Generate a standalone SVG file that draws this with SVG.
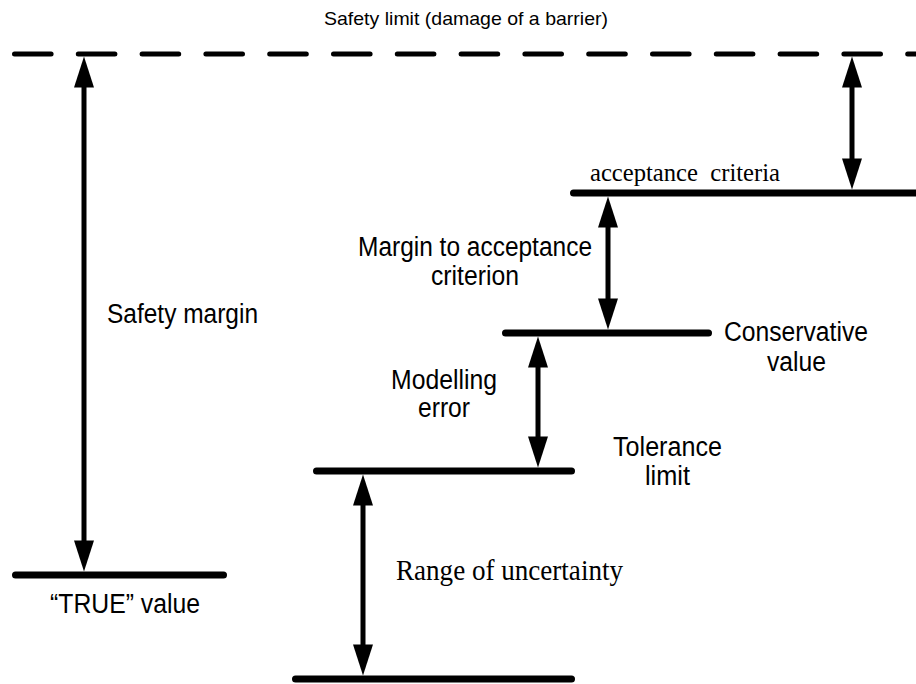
<svg xmlns="http://www.w3.org/2000/svg" width="916" height="684" viewBox="0 0 916 684">
<style>
.lvl{stroke:#000;stroke-width:7;stroke-linecap:round;fill:none}
.dash{stroke:#000;stroke-width:5;stroke-linecap:round;stroke-dasharray:36.6 27.2;fill:none}
.shaft{stroke:#000;stroke-width:5;fill:none}
.head{fill:#000;stroke:none}
.sans{font-family:"Liberation Sans",Arial,sans-serif;fill:#000}
.serif{font-family:"Liberation Serif","Times New Roman",serif;fill:#000}
</style>
<rect width="916" height="684" fill="#fff"/>
<g id="safety-limit">
<line class="dash" x1="14.5" y1="54" x2="916" y2="54"/>
<text class="sans" x="466" y="25" font-size="19" text-anchor="middle" textLength="284" lengthAdjust="spacingAndGlyphs">Safety limit (damage of a barrier)</text>
</g>
<g id="acceptance-criteria">
<line class="lvl" x1="573.5" y1="193" x2="920" y2="193"/>
<text class="serif" x="590" y="181" font-size="26" textLength="190" lengthAdjust="spacingAndGlyphs" xml:space="preserve">acceptance  criteria</text>
</g>
<g id="conservative-value">
<line class="lvl" x1="505.5" y1="333" x2="708.5" y2="333"/>
<text class="sans" x="724" y="341" font-size="27" textLength="144" lengthAdjust="spacingAndGlyphs">Conservative</text>
<text class="sans" x="767" y="371" font-size="27" textLength="59" lengthAdjust="spacingAndGlyphs">value</text>
</g>
<g id="tolerance-limit">
<line class="lvl" x1="316.5" y1="471" x2="571.5" y2="471"/>
<text class="sans" x="613" y="456" font-size="27" textLength="109" lengthAdjust="spacingAndGlyphs">Tolerance</text>
<text class="sans" x="645" y="485" font-size="27" textLength="45" lengthAdjust="spacingAndGlyphs">limit</text>
</g>
<g id="bottom-level">
<line class="lvl" x1="295.5" y1="679" x2="571.5" y2="679"/>
</g>
<g id="true-value">
<line class="lvl" x1="15.5" y1="575" x2="223.5" y2="575"/>
<text class="sans" x="50" y="613" font-size="27" textLength="150" lengthAdjust="spacingAndGlyphs">“TRUE” value</text>
</g>
<g id="labels">
<text class="sans" x="107" y="323" font-size="27" textLength="151" lengthAdjust="spacingAndGlyphs">Safety margin</text>
<text class="sans" x="358" y="256" font-size="27" textLength="234" lengthAdjust="spacingAndGlyphs">Margin to acceptance</text>
<text class="sans" x="431" y="285" font-size="27" textLength="88" lengthAdjust="spacingAndGlyphs">criterion</text>
<text class="sans" x="391" y="389" font-size="27" textLength="106" lengthAdjust="spacingAndGlyphs">Modelling</text>
<text class="sans" x="418" y="417" font-size="27" textLength="52" lengthAdjust="spacingAndGlyphs">error</text>
<text class="serif" x="396" y="580" font-size="29" textLength="227" lengthAdjust="spacingAndGlyphs">Range of uncertainty</text>
</g>
<g id="connectors">
<line class="shaft" x1="84" y1="86" x2="84" y2="542"/>
<polygon class="head" points="84,56.5 74,87.5 94,87.5"/>
<polygon class="head" points="84,571.5 74,540.5 94,540.5"/>
<line class="shaft" x1="852" y1="86" x2="852" y2="160"/>
<polygon class="head" points="852,56.5 842,87.5 862,87.5"/>
<polygon class="head" points="852,189.5 842,158.5 862,158.5"/>
<line class="shaft" x1="608" y1="226" x2="608" y2="300"/>
<polygon class="head" points="608,196.5 598,227.5 618,227.5"/>
<polygon class="head" points="608,329.5 598,298.5 618,298.5"/>
<line class="shaft" x1="538" y1="366" x2="538" y2="438"/>
<polygon class="head" points="538,336.5 528,367.5 548,367.5"/>
<polygon class="head" points="538,467.5 528,436.5 548,436.5"/>
<line class="shaft" x1="363" y1="504" x2="363" y2="646"/>
<polygon class="head" points="363,474.5 353,505.5 373,505.5"/>
<polygon class="head" points="363,675.5 353,644.5 373,644.5"/>
</g>
</svg>
